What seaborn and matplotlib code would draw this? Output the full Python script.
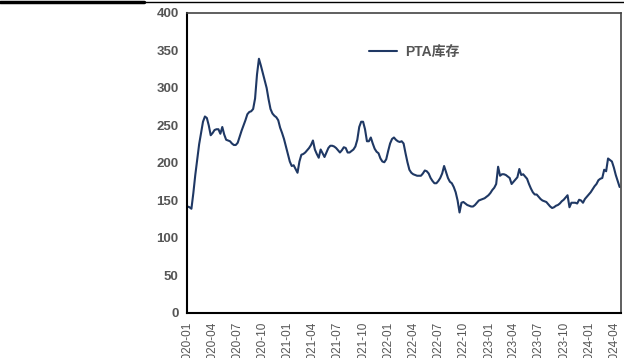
import pandas as pd
import matplotlib.pyplot as plt
import matplotlib.dates as mdates
from matplotlib.lines import Line2D
import seaborn as sns

# weekly PTA inventory, first week 2020-01-03
start_date = '2020-01-03'
pta_stock = [
    142, 141, 139, 160, 184, 205, 225, 240, 255, 262,
    260, 250, 237, 240, 244, 245, 245, 239, 248, 238,
    231, 230, 229, 226, 224, 224, 227, 235, 243, 250,
    257, 265, 268, 269, 272, 286, 318, 339, 330, 320,
    310, 300, 285, 272, 266, 263, 261, 257, 247, 240,
    232, 222, 212, 202, 196, 197, 192, 187, 202, 211,
    212, 214, 217, 220, 224, 230, 218, 212, 207, 218,
    213, 208, 214, 220, 223, 223, 222, 220, 217, 214,
    217, 221, 220, 214, 214, 216, 218, 222, 231, 248,
    255, 255, 245, 229, 229, 234, 226, 219, 215, 213,
    206, 202, 201, 205, 216, 226, 232, 234, 231, 229,
    228, 229, 226, 213, 201, 191, 187, 185, 184, 183,
    183, 183, 186, 190, 189, 186, 180, 176, 173, 173,
    176, 180, 186, 196, 188, 180, 175, 173, 168, 161,
    150, 134, 147, 148, 146, 144, 143, 142, 142, 144,
    147, 150, 151, 152, 153, 155, 157, 160, 164, 167,
    172, 195, 183, 185, 185, 184, 182, 180, 172, 175,
    178, 181, 192, 184, 185, 182, 179, 172, 166, 161,
    158, 158, 155, 152, 150, 149, 148, 145, 142, 140,
    141, 143, 144, 146, 149, 151, 154, 157, 141, 147,
    147, 147, 146, 151, 150, 147, 152, 155, 158, 161,
    165, 169, 172, 177, 179, 180, 191, 189, 206, 204,
    202, 194, 184, 176, 168,
]
series_name = 'PTA库存'

dates = pd.date_range(start_date, periods=len(pta_stock), freq='7D')
df = pd.DataFrame({'date': dates, series_name: pta_stock})

sns.set_style('white')
plt.rcParams['font.family'] = ['Liberation Sans', 'Noto Sans CJK SC']

fig = plt.figure(figsize=(6.24, 3.58), dpi=100)
ax = fig.add_axes([0.2997, 0.1257, 0.6955, 0.838])

sns.lineplot(data=df, x='date', y=series_name, color='#1f3864',
             linewidth=1.5, label=series_name, ax=ax)

ax.set_ylim(0, 400)
ax.set_yticks(range(0, 401, 50))
ax.set_xlim(pd.Timestamp('2020-01-01'), pd.Timestamp('2024-04-24'))
ax.set_xticks(pd.date_range('2020-01-01', '2024-04-01', freq='QS'))
ax.xaxis.set_major_formatter(mdates.DateFormatter('%Y-%m'))
ax.set_xlabel('')
ax.set_ylabel('')

ax.tick_params(axis='y', length=0, pad=6, labelsize=9.5, labelcolor='#555555')
ax.tick_params(axis='x', direction='in', length=4, width=1, color='black',
               pad=6.5, labelsize=8.5, labelcolor='#555555', rotation=90)
for lbl in ax.get_yticklabels():
    lbl.set_fontweight('bold')

for side in ['left', 'bottom']:
    ax.spines[side].set_color('black')
    ax.spines[side].set_linewidth(1.5)
for side in ['top', 'right']:
    ax.spines[side].set_color('#444444')
    ax.spines[side].set_linewidth(1.2)

leg = ax.legend(loc='center left', bbox_to_anchor=(0.39, 0.87), frameon=False,
                handlelength=2.0, handletextpad=0.6, fontsize=10)
for t in leg.get_texts():
    t.set_color('#555555')
    t.set_fontweight('bold')

# rule at the top of the page
fig.add_artist(Line2D([0, 0.23], [0.994, 0.994], color='black', linewidth=2.5))
fig.add_artist(Line2D([0.23, 1], [0.994, 0.994], color='black', linewidth=1))

fig.savefig('out.png', dpi=100)
